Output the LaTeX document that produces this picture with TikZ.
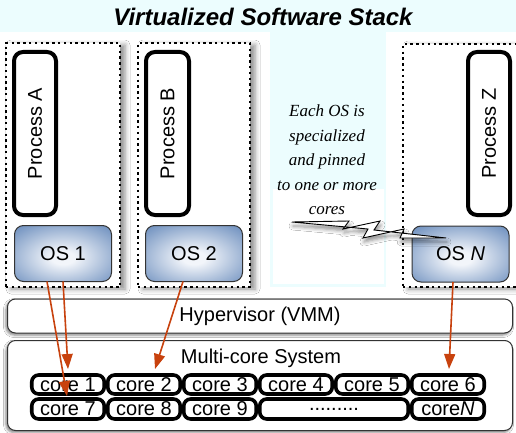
\documentclass[tikz,border=0pt]{standalone}
\usepackage{fontspec}
\setmainfont{Liberation Sans}
\newfontfamily\notefont{Liberation Serif}
\usetikzlibrary{shadows.blur,arrows.meta,calc}

\definecolor{paleCyan}{RGB}{236,253,254}
\definecolor{osCenter}{RGB}{242,245,250}
\definecolor{osBlue}{RGB}{100,136,186}
\definecolor{osEdge}{RGB}{70,106,158}
\definecolor{pinArrow}{RGB}{200,66,14}

\pgfdeclareradialshading{osglow}{\pgfpoint{0bp}{-4bp}}{%
  color(0bp)=(osCenter); color(6bp)=(osCenter);
  color(38bp)=(osBlue); color(60bp)=(osEdge); color(80bp)=(osEdge)}

\newcommand\labelsize{\fontsize{20}{24}\selectfont}

\tikzset{
  columnbox/.style={draw=black, fill=white, line width=1.3pt,
    dash pattern=on 2.4pt off 3.4pt, inner sep=0pt, outer sep=0pt,
    blur shadow={shadow xshift=5pt, shadow yshift=-2pt,
      shadow blur radius=5pt, shadow opacity=45}},
  procbox/.style={draw=black, fill=white, line width=4pt,
    rounded corners=9pt, inner sep=0pt, outer sep=0pt,
    font=\labelsize},
  osbox/.style={draw=black!80, line width=1pt, rounded corners=9pt,
    shading=osglow, inner sep=0pt, outer sep=0pt,
    minimum width=97pt, minimum height=56pt, font=\labelsize},
  layerbox/.style={draw=black!80, fill=white, line width=1pt,
    rounded corners=8pt, inner sep=0pt, outer sep=0pt,
    minimum width=505pt, font=\labelsize,
    blur shadow={shadow xshift=-1.5pt, shadow yshift=-2pt,
      shadow blur radius=2.5pt, shadow opacity=50}},
  corebox/.style={draw=black, fill=white, line width=3.6pt,
    rounded corners=7pt, inner sep=0pt, outer sep=0pt,
    minimum width=72.5pt, font=\labelsize},
  rowone/.style={corebox, minimum height=19pt},
  rowtwo/.style={corebox, minimum height=20pt},
  pinarrow/.style={draw=pinArrow, line width=1.6pt,
    -{Triangle[length=15pt,width=11pt]}},
}

\begin{document}
\begin{tikzpicture}[x=1pt,y=-1pt]
\useasboundingbox (0,0) rectangle (516,433);
\clip (0,0) rectangle (516,433);

% backgrounds
\fill[white] (0,0) rectangle (516,433);
\fill[paleCyan] (0,0) rectangle (516,32);
\fill[paleCyan] (270,32) rectangle (386,287);
\fill[white] (273,189) rectangle (384,284);

% title
\node[font=\fontsize{24}{28}\selectfont\bfseries\itshape] (title) at (263,17)
  {Virtualized Software Stack};

% guest columns
\node[columnbox, minimum width=114pt, minimum height=244pt] (colA) at (63,165) {};
\node[columnbox, minimum width=112pt, minimum height=244pt] (colB) at (194,165) {};
\node[columnbox, minimum width=127pt, minimum height=243pt] (colZ) at (466.5,165.5) {};

% processes
\node[procbox, minimum width=42pt, minimum height=163pt] (procA) at (35,133.5)
  {\rotatebox{90}{Process A}};
\node[procbox, minimum width=43pt, minimum height=163pt] (procB) at (167.5,133.5)
  {\rotatebox{90}{Process B}};
\node[procbox, minimum width=42pt, minimum height=163pt] (procZ) at (489,133.5)
  {\rotatebox{90}{Process Z}};

% guest operating systems
\node[osbox] (os1) at (63,253.5) {OS 1};
\node[osbox] (os2) at (194,253.5) {OS 2};
\node[osbox] (osN) at (460.5,254) {OS \textit{N}};

% annotation
\node[font=\notefont\itshape\fontsize{17}{24.5}\selectfont, align=center,
  inner sep=0pt] (note) at (327,160)
  {Each OS is\\specialized\\and pinned\\to one or more\\cores};

% hypervisor and hardware layers
\node[layerbox, minimum height=34pt] (hyp) at (260,316) {Hypervisor (VMM)};
\node[layerbox, minimum height=90pt] (sys) at (260,385.5) {};
\node[font=\labelsize, inner sep=0pt] (sysLabel) at (261,358) {Multi-core System};

% cores
\node[rowone] (core1) at (68,384.5) {core 1};
\node[rowone] (core2) at (144,384.5) {core 2};
\node[rowone] (core3) at (220,384.5) {core 3};
\node[rowone] (core4) at (296,384.5) {core 4};
\node[rowone] (core5) at (372,384.5) {core 5};
\node[rowone] (core6) at (448,384.5) {core 6};
\node[rowtwo] (core7) at (68,409) {core 7};
\node[rowtwo] (core8) at (144,409) {core 8};
\node[rowtwo] (core9) at (220,409) {core 9};
\node[rowtwo, minimum width=148.5pt] (coreDots) at (334,409) {.........};
\node[rowtwo] (coreN) at (448,409) {core\textit{N}};

% pinning arrows
\draw[pinarrow] ($(os1.south)+(-16,0)$) -- ($(core7.north)+(-1,-3)$);
\draw[pinarrow] (os1.south) -- ($(core1.north)+(0,-6)$);
\draw[pinarrow] ($(os2.south)+(-11,0)$) -- ($(core2.north)+(11,-6)$);
\draw[pinarrow] ($(osN.south)+(-7.5,0)$) -- ($(core6.north)+(1,-6)$);

% lightning bolt from the annotation to OS N
\draw[fill=white, draw=black, line width=0.9pt, line join=miter,
  blur shadow={shadow xshift=1pt, shadow yshift=-4pt,
    shadow blur radius=4pt, shadow opacity=45}]
  (292,222) -- (349,221) -- (343,229) -- (380,221) -- (374,230)
  -- (446,238) -- (400,238) -- (404,229) -- (363,238) -- (368,229) -- cycle;
\end{tikzpicture}
\end{document}
